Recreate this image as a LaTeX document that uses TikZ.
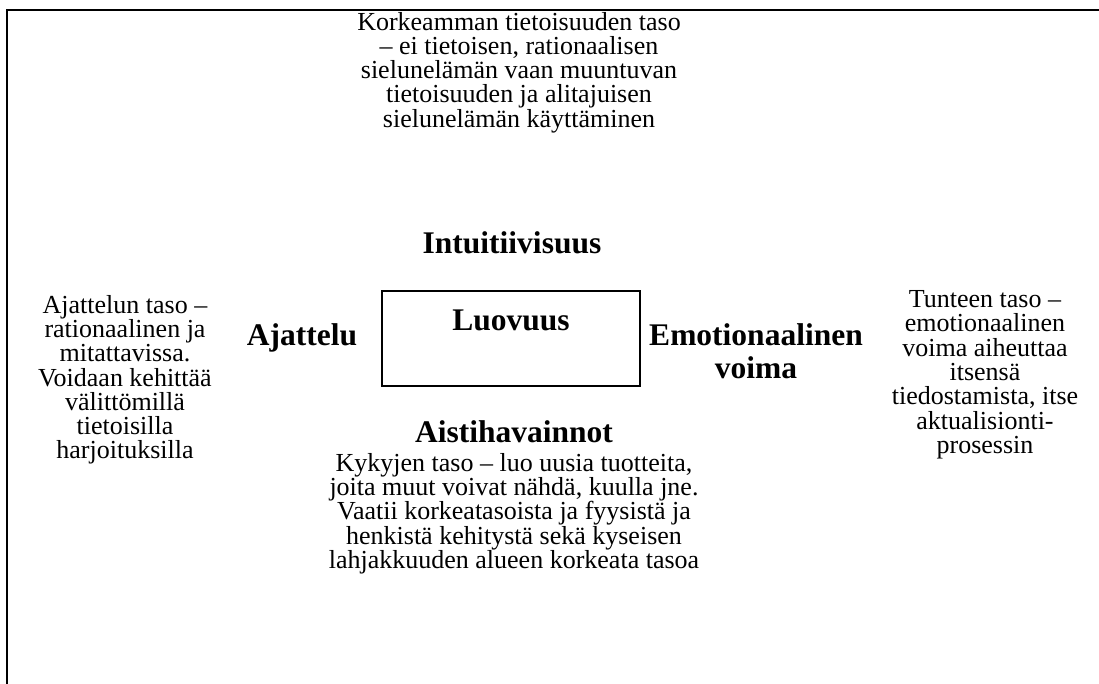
\documentclass[tikz,border=0pt]{standalone}
\usepackage{fontspec}
\setmainfont{Liberation Serif}
\begin{document}
\begin{tikzpicture}[x=1pt,y=-1pt,
  body/.style={align=center,inner sep=0pt,font=\fontsize{26}{24.3}\selectfont},
  head/.style={align=center,inner sep=0pt,font=\fontsize{31.5}{33}\selectfont\bfseries},
  frame/.style={line width=2pt}]
\useasboundingbox (0,0) rectangle (1099,684);
% open frame: top and left sides only
\coordinate (fbl) at (7,684);
\coordinate (ftl) at (7,10);
\coordinate (ftr) at (1099,10);
\draw[frame] (fbl) -- (ftl) -- (ftr);
% upper description
\node[body] (upper) at (519,72.4) {Korkeamman tietoisuuden taso\\– ei tietoisen, rationaalisen\\sielunelämän vaan muuntuvan\\tietoisuuden ja alitajuisen\\sielunelämän käyttäminen};
\node[head] (intu) at (512,243) {Intuitiivisuus};
% central box
\node[draw,line width=1.5pt,minimum width=258pt,minimum height=95pt,inner sep=0pt] (box) at (511,338.5) {};
\node[head] (luov) at (511,320) {Luovuus};
\node[head] (ajat) at (302,338) {Ajattelu};
\node[head] (emo) at (756,351) {Emotionaalinen\\voima};
% side descriptions
\node[body] (left) at (125,379.8) {Ajattelun taso –\\rationaalinen ja\\mitattavissa.\\Voidaan kehittää\\välittömillä\\tietoisilla\\harjoituksilla};
\node[body] (right) at (985,374.8) {Tunteen taso –\\emotionaalinen\\voima aiheuttaa\\itsensä\\tiedostamista, itse\\aktualisionti-\\prosessin};
% lower description
\node[head] (aist) at (514,432) {Aistihavainnot};
\node[body] (lower) at (514,513.5) {Kykyjen taso – luo uusia tuotteita,\\joita muut voivat nähdä, kuulla jne.\\Vaatii korkeatasoista ja fyysistä ja\\henkistä kehitystä sekä kyseisen\\lahjakkuuden alueen korkeata tasoa};
\end{tikzpicture}
\end{document}
